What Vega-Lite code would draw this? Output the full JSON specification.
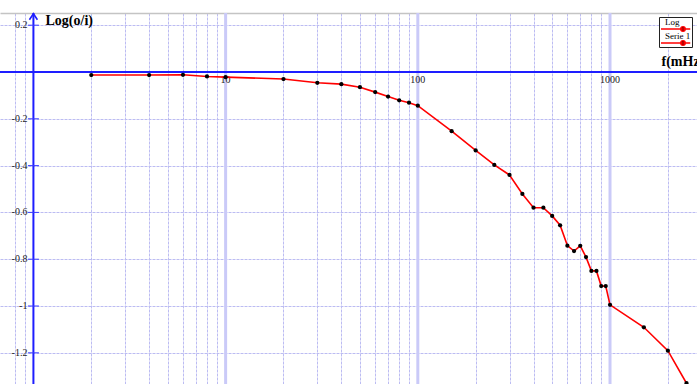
{
  "$schema": "https://vega.github.io/schema/vega-lite/v6.json",
  "width": 697,
  "height": 371,
  "autosize": {"type": "none"},
  "padding": {"left": 0, "top": 13, "right": 0, "bottom": 0},
  "background": "white",
  "config": {"view": {"stroke": null}, "font": "Liberation Serif"},
  "datasets": {
    "meas": [
      {"f": 2, "v": -0.013, "series": "Log"},
      {"f": 4, "v": -0.013, "series": "Log"},
      {"f": 6, "v": -0.012, "series": "Log"},
      {"f": 8, "v": -0.019, "series": "Log"},
      {"f": 10, "v": -0.022, "series": "Log"},
      {"f": 20, "v": -0.030, "series": "Log"},
      {"f": 30, "v": -0.046, "series": "Log"},
      {"f": 40, "v": -0.052, "series": "Log"},
      {"f": 50, "v": -0.065, "series": "Log"},
      {"f": 60, "v": -0.086, "series": "Log"},
      {"f": 70, "v": -0.105, "series": "Log"},
      {"f": 80, "v": -0.121, "series": "Log"},
      {"f": 90, "v": -0.131, "series": "Log"},
      {"f": 100, "v": -0.144, "series": "Log"},
      {"f": 150, "v": -0.253, "series": "Log"},
      {"f": 200, "v": -0.335, "series": "Log"},
      {"f": 250, "v": -0.397, "series": "Log"},
      {"f": 300, "v": -0.440, "series": "Log"},
      {"f": 350, "v": -0.521, "series": "Log"},
      {"f": 400, "v": -0.580, "series": "Log"},
      {"f": 450, "v": -0.580, "series": "Log"},
      {"f": 500, "v": -0.615, "series": "Log"},
      {"f": 550, "v": -0.655, "series": "Log"},
      {"f": 600, "v": -0.742, "series": "Log"},
      {"f": 650, "v": -0.765, "series": "Log"},
      {"f": 700, "v": -0.743, "series": "Log"},
      {"f": 750, "v": -0.791, "series": "Log"},
      {"f": 800, "v": -0.850, "series": "Log"},
      {"f": 850, "v": -0.850, "series": "Log"},
      {"f": 900, "v": -0.915, "series": "Log"},
      {"f": 950, "v": -0.915, "series": "Log"},
      {"f": 1000, "v": -0.995, "series": "Log"},
      {"f": 1500, "v": -1.091, "series": "Log"},
      {"f": 2000, "v": -1.191, "series": "Log"},
      {"f": 2500, "v": -1.330, "series": "Log"}
    ],
    "decades": [
      {"f": 10, "label": "10"},
      {"f": 100, "label": "100"},
      {"f": 1000, "label": "1000"}
    ],
    "yticks": [
      {"v": 0.2, "label": "0.2"},
      {"v": -0.2, "label": "-0.2"},
      {"v": -0.4, "label": "-0.4"},
      {"v": -0.6, "label": "-0.6"},
      {"v": -0.8, "label": "-0.8"},
      {"v": -1, "label": "-1"},
      {"v": -1.2, "label": "-1.2"}
    ],
    "one": [{}]
  },
  "layer": [
    {
      "data": {"name": "decades"},
      "mark": {"type": "rule", "color": "#cacaf8", "strokeWidth": 3},
      "encoding": {
        "x": {
          "field": "f",
          "type": "quantitative",
          "scale": {"type": "log", "domain": [0.6701, 2835], "nice": false, "zero": false},
          "axis": {
            "orient": "top",
            "grid": true,
            "values": [0.8, 0.9, 2, 3, 4, 5, 6, 7, 8, 9, 20, 30, 40, 50, 60, 70, 80, 90, 200, 300, 400, 500, 600, 700, 800, 900, 2000],
            "gridDash": [3, 1],
            "gridColor": "#bcbcf2",
            "gridWidth": 1,
            "gridOpacity": 1,
            "labels": false,
            "ticks": false,
            "domain": true,
            "domainColor": "#c4c4c4",
            "domainWidth": 1.5,
            "title": "f(mHz)",
            "titleX": 661,
            "titleY": 48,
            "titleAlign": "left",
            "titleBaseline": "middle",
            "titleAngle": 0,
            "titleFont": "Liberation Serif",
            "titleFontSize": 14,
            "titleFontWeight": "bold",
            "titleColor": "#000"
          }
        }
      }
    },
    {
      "data": {"name": "one"},
      "mark": {"type": "rule", "color": "#1e1eff", "strokeWidth": 2},
      "encoding": {"y": {"datum": 0}}
    },
    {
      "data": {"name": "one"},
      "mark": {"type": "rule", "color": "#1e1eff", "strokeWidth": 2},
      "encoding": {"x": {"datum": 1}}
    },
    {
      "data": {"name": "one"},
      "mark": {"type": "point", "shape": "M-1,0.75L0,-0.75L1,0.75", "filled": false, "size": 64, "strokeWidth": 1.6, "color": "#1e1eff", "opacity": 1},
      "encoding": {"x": {"datum": 1}, "y": {"datum": 0.236}}
    },
    {
      "data": {"name": "yticks"},
      "mark": {"type": "tick", "orient": "horizontal", "size": 11, "thickness": 1, "color": "#3a3aff", "opacity": 1},
      "encoding": {"x": {"datum": 1}, "y": {"field": "v", "type": "quantitative"}}
    },
    {
      "data": {"name": "yticks"},
      "mark": {"type": "text", "align": "right", "baseline": "middle", "dx": -6, "font": "Liberation Serif", "fontSize": 10, "color": "#222"},
      "encoding": {
        "x": {"datum": 1},
        "y": {
          "field": "v",
          "type": "quantitative",
          "scale": {"domain": [-1.3333, 0.2521], "nice": false, "zero": false},
          "axis": {
            "grid": true,
            "values": [0.2, -0.2, -0.4, -0.6, -0.8, -1, -1.2],
            "gridDash": [3, 1],
            "gridColor": "#bcbcf2",
            "gridWidth": 1,
            "gridOpacity": 1,
            "labels": false,
            "ticks": false,
            "domain": false,
            "title": "Log(o/i)",
            "titleX": 45,
            "titleY": 7,
            "titleAngle": 0,
            "titleAlign": "left",
            "titleBaseline": "middle",
            "titleFont": "Liberation Serif",
            "titleFontSize": 14,
            "titleFontWeight": "bold",
            "titleColor": "#000"
          }
        },
        "text": {"field": "label", "type": "nominal"}
      }
    },
    {
      "data": {"name": "decades"},
      "mark": {"type": "text", "align": "center", "baseline": "top", "dy": 3, "font": "Liberation Serif", "fontSize": 10, "color": "#222"},
      "encoding": {
        "x": {"field": "f", "type": "quantitative"},
        "y": {"datum": 0},
        "text": {"field": "label", "type": "nominal"}
      }
    },
    {
      "data": {"name": "meas"},
      "mark": {"type": "line", "strokeWidth": 1.6, "clip": true},
      "encoding": {
        "x": {"field": "f", "type": "quantitative"},
        "y": {"field": "v", "type": "quantitative"},
        "color": {
          "field": "series",
          "type": "nominal",
          "scale": {"domain": ["Log", "Serie 1"], "range": ["#ff0000", "#ff0000"]},
          "legend": {
            "orient": "none",
            "legendX": 659,
            "legendY": 4,
            "title": null,
            "symbolType": "M-1,0.18L1,0.18M-0.1,0.18A0.1,0.1 0 1,0 0.1,0.18A0.1,0.1 0 1,0 -0.1,0.18Z",
            "symbolSize": 1936,
            "symbolStrokeWidth": 1.5,
            "symbolFillColor": "#000",
            "labelOffset": -41,
            "labelFont": "Liberation Serif",
            "labelFontSize": 9,
            "labelColor": "#000",
            "labelBaseline": "alphabetic",
            "padding": 1,
            "strokeColor": "#222",
            "fillColor": "#fff",
            "clipHeight": 14,
            "rowPadding": 0
          }
        }
      }
    },
    {
      "data": {"name": "meas"},
      "mark": {"type": "circle", "size": 18, "color": "#000", "opacity": 1, "clip": true},
      "encoding": {
        "x": {"field": "f", "type": "quantitative"},
        "y": {"field": "v", "type": "quantitative"}
      }
    }
  ]
}
